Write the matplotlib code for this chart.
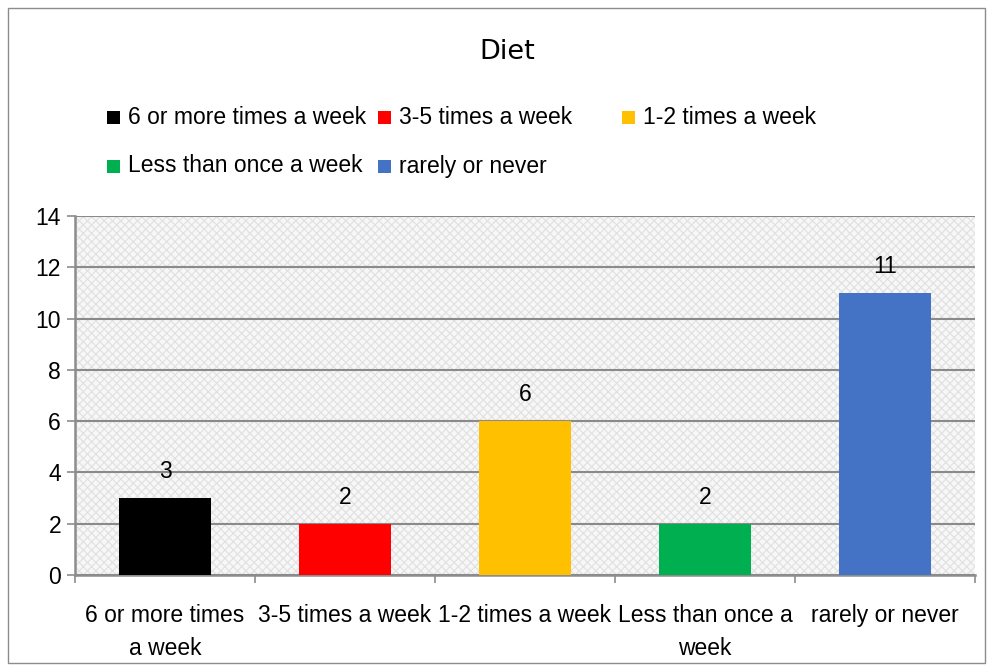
import matplotlib
matplotlib.use("Agg")
import matplotlib.pyplot as plt
from matplotlib.patches import Rectangle

plt.rcParams['font.family'] = ['Liberation Sans', 'DejaVu Sans']

title = "Diet"
categories = ["6 or more times\na week", "3-5 times a week", "1-2 times a week",
              "Less than once a\nweek", "rarely or never"]
legend_labels = ["6 or more times a week", "3-5 times a week", "1-2 times a week",
                 "Less than once a week", "rarely or never"]
values = [3, 2, 6, 2, 11]
colors = ["#000000", "#ff0000", "#ffc000", "#00b050", "#4472c4"]
yticks = [0, 2, 4, 6, 8, 10, 12, 14]

FS = 16.5
W, H = 990, 668
fig = plt.figure(figsize=(W / 100, H / 100), dpi=100)
fig.patch.set_facecolor("white")

# outer chart border
fig.patches.append(Rectangle((8 / W, 1 - 663 / H), (985 - 8) / W, (663 - 8) / H,
                             transform=fig.transFigure, fill=False,
                             edgecolor="#8c8c8c", linewidth=1.0))

left, right, top, bottom = 75, 975, 216, 575
ax = fig.add_axes([left / W, 1 - bottom / H, (right - left) / W, (bottom - top) / H])
ax.set_facecolor("#f6f6f6")
plt.rcParams['hatch.color'] = "#e0e0e0"
plt.rcParams['hatch.linewidth'] = 0.8
bg = Rectangle((0, 0), 1, 1, transform=ax.transAxes, facecolor="#f7f7f7",
               hatch="xxxx", edgecolor="#e0e0e0", linewidth=0, zorder=0)
ax.add_patch(bg)

x = list(range(len(values)))
bars = ax.bar(x, values, width=0.51, color=colors, zorder=3)
for xi, v in zip(x, values):
    ax.annotate(str(v), (xi, v), xytext=(0, 19), textcoords="offset points",
                ha="center", va="center", fontsize=FS, zorder=4)

ax.set_xlim(-0.5, len(values) - 0.5)
ax.set_ylim(0, 14)
ax.set_yticks(yticks)
ax.set_yticklabels([str(t) for t in yticks], fontsize=FS)
ax.yaxis.grid(True, color="#8a8a8a", linewidth=1.5, zorder=1)
ax.set_axisbelow(True)

ax.set_xticks(x)
ax.set_xticklabels(categories, fontsize=FS, linespacing=1.55)
ax.tick_params(axis="x", which="major", length=0, pad=21)
ax.set_xticks([i - 0.5 for i in range(len(values) + 1)], minor=True)
ax.tick_params(axis="x", which="minor", length=6, width=1.2, color="#8c8c8c", direction="out")
ax.tick_params(axis="y", length=6, width=1.2, color="#8c8c8c", direction="out", pad=4)

for s in ["top", "right"]:
    ax.spines[s].set_visible(False)
for s in ["left", "bottom"]:
    ax.spines[s].set_color("#8c8c8c")
    ax.spines[s].set_linewidth(1.8)

fig.text(507 / W, 1 - 52 / H, title, ha="center", va="center", fontsize=19.5,
         family=["DejaVu Sans"])

# legend (manual layout like Excel)
pos = [(107, 117), (378, 117), (622, 117), (107, 166), (378, 166)]
for (px, py), lab, c in zip(pos, legend_labels, colors):
    fig.patches.append(Rectangle((px / W, 1 - (py + 7) / H), 13 / W, 13 / H,
                                 transform=fig.transFigure, facecolor=c, edgecolor="none"))
    fig.text((px + 21) / W, 1 - py / H, lab, ha="left", va="center", fontsize=FS)

fig.savefig("out.png", dpi=100)
